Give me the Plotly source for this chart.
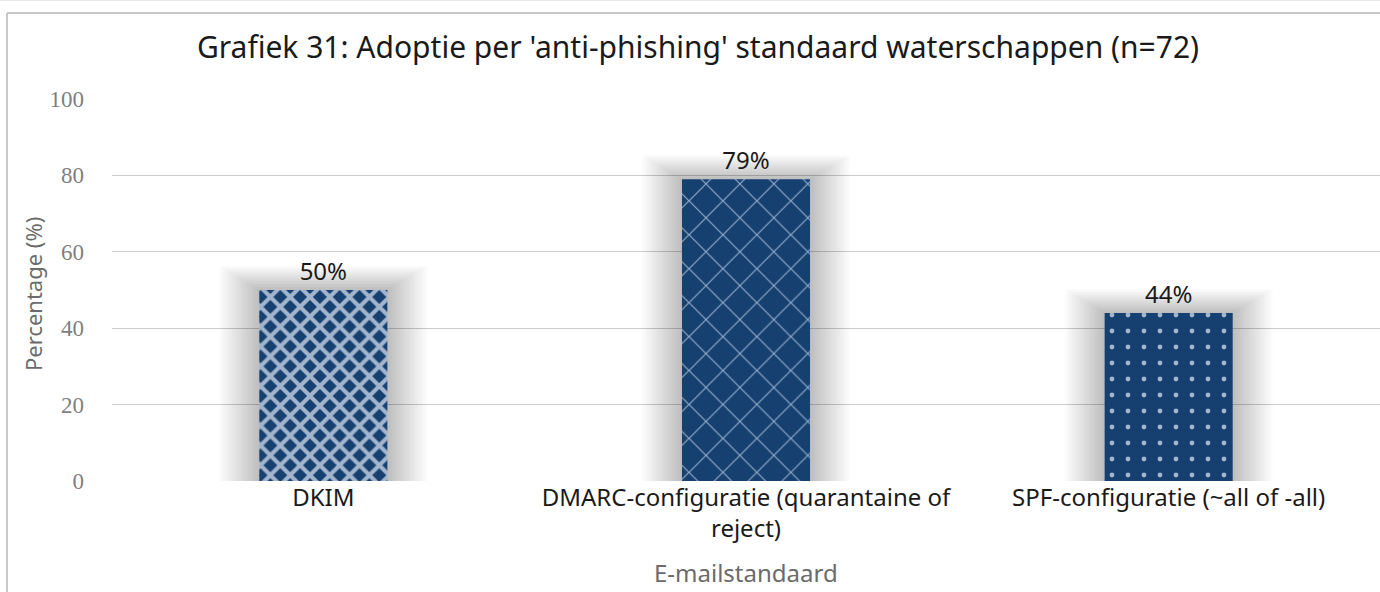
import plotly.graph_objects as go

# ---- data ----
categories = ["DKIM", "DMARC-configuratie (quarantaine of<br>reject)", "SPF-configuratie (~all of -all)"]
values = [50, 79, 44]
y_ticks = [0, 20, 40, 60, 80, 100]

title_text = "Grafiek 31: Adoptie per 'anti-phishing' standaard waterschappen (n=72)"
x_title = "E-mailstandaard"
y_title = "Percentage (%)"

# ---- style ----
W, H = 1380, 592
ML, MR, MT, MB = 112, 0, 99, 111
plot_w = W - ML - MR
plot_h = H - MT - MB
px_per_unit = plot_h / 100.0
bar_w = 0.303
dark = "#164070"
light = "#a3b5cd"
hexline = "#8ea8c8"

fig = go.Figure()

# soft shadow (glow) layers behind the bars
n_layers = 16
for k in range(n_layers, 0, -1):
    grow_px = 2.5 * k
    fig.add_trace(go.Bar(
        x=categories,
        y=[v + 0.6 * grow_px / px_per_unit for v in values],
        width=bar_w + 2 * grow_px / (plot_w / 3.0),
        marker=dict(color="rgba(0,0,0,0.016)", line=dict(width=0)),
        hoverinfo="skip",
        showlegend=False,
    ))

# main bars
fig.add_trace(go.Bar(
    x=categories,
    y=values,
    width=bar_w,
    marker=dict(
        color=dark,
        line=dict(width=0),
        pattern=dict(
            shape=["x", "x", "."],
            bgcolor=[dark, dark, dark],
            fgcolor=[light, hexline, light],
            size=[14, 24, 16],
            solidity=[0.5, 0.1, 0.07],
            fillmode="replace",
        ),
    ),
    texttemplate="%{y}%",
    textposition="outside",
    textfont=dict(family="Noto Sans", size=24, color="#1a1a1a"),
    cliponaxis=False,
    hoverinfo="skip",
    showlegend=False,
))

fig.update_layout(
    width=W, height=H,
    margin=dict(l=ML, r=MR, t=MT, b=MB),
    paper_bgcolor="white",
    plot_bgcolor="white",
    barmode="overlay",
    title=dict(
        text=title_text,
        x=698 / W, xref="container", xanchor="center",
        y=1 - 47 / H, yref="container", yanchor="middle",
        font=dict(family="Noto Sans", size=30, color="#1a1a1a"),
    ),
    xaxis=dict(
        range=[-0.5, 2.5],
        showgrid=False,
        zeroline=False,
        showline=False,
        ticks="",
        tickfont=dict(family="Noto Sans", size=24, color="#1a1a1a"),
    ),
    yaxis=dict(
        range=[0, 100],
        tickvals=y_ticks,
        showgrid=True,
        gridcolor="#cccccc",
        gridwidth=1,
        zeroline=False,
        showline=False,
        ticks="",
        ticklabelstandoff=27,
        tickfont=dict(family="Liberation Serif", size=23, color="#7f7f7f"),
    ),
    annotations=[
        dict(text=y_title, xref="paper", yref="paper",
             x=(33 - ML) / plot_w, y=(481 - 294) / plot_h,
             xanchor="center", yanchor="middle", textangle=-90, showarrow=False,
             font=dict(family="Noto Sans", size=22, color="#6b6b6b")),
        dict(text=x_title, xref="paper", yref="paper",
             x=(746 - ML) / plot_w, y=-(572 - 481) / plot_h,
             xanchor="center", yanchor="middle", showarrow=False,
             font=dict(family="Noto Sans", size=24, color="#6b6b6b")),
    ],
    shapes=[
        # outer chart frame (left and top edges)
        dict(type="line", xref="paper", yref="paper",
             x0=(7 - ML) / plot_w, x1=(7 - ML) / plot_w,
             y0=(481 - 600) / plot_h, y1=(481 - 13) / plot_h,
             line=dict(color="#c8c8c8", width=2)),
        dict(type="line", xref="paper", yref="paper",
             x0=(7 - ML) / plot_w, x1=(1390 - ML) / plot_w,
             y0=(481 - 13) / plot_h, y1=(481 - 13) / plot_h,
             line=dict(color="#c8c8c8", width=2)),
        dict(type="line", xref="paper", yref="paper",
             x0=(0 - ML) / plot_w, x1=(1390 - ML) / plot_w,
             y0=(481 - 0.5) / plot_h, y1=(481 - 0.5) / plot_h,
             line=dict(color="#e6e6e6", width=1)),
    ],
)

fig.write_html("out.html")
